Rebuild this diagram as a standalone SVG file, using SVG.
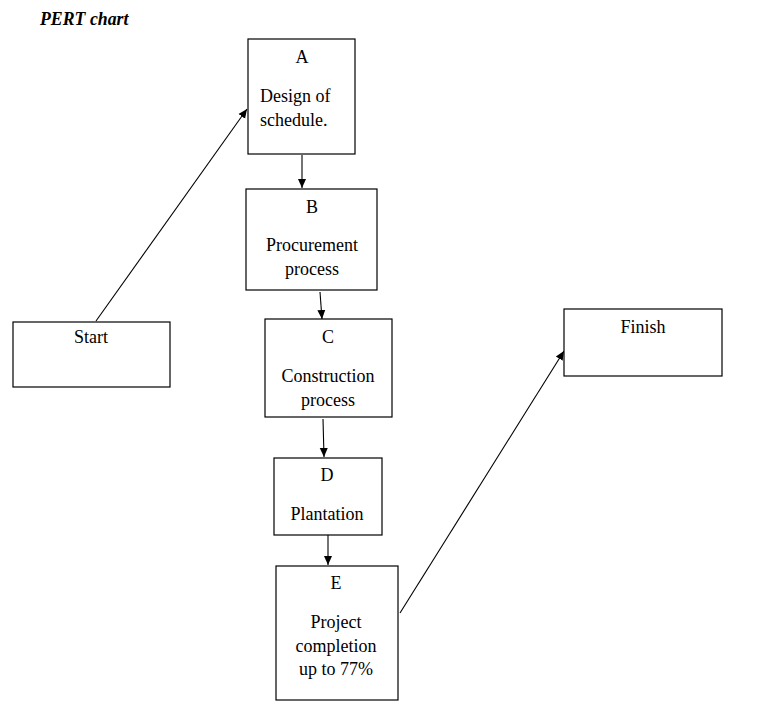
<svg xmlns="http://www.w3.org/2000/svg" width="766" height="718" viewBox="0 0 766 718">
<style>
.box{fill:#fff;stroke:#000;stroke-width:1.2}
.t{font-family:'Liberation Serif','Times New Roman','DejaVu Serif',serif;font-size:18px;fill:#000;text-anchor:middle}
.l{text-anchor:start}
.title{font-family:'Liberation Serif','Times New Roman','DejaVu Serif',serif;font-size:17.8px;font-weight:bold;font-style:italic}
.c{stroke:#000;stroke-width:1.1;fill:none;marker-end:url(#ah)}
</style>
<defs>
<marker id="ah" markerWidth="10" markerHeight="10" refX="9" refY="5" orient="auto" markerUnits="userSpaceOnUse">
<path d="M0,1 L9,5 L0,9 Z" fill="#000"/>
</marker>
</defs>
<rect width="766" height="718" fill="#fff"/>
<text class="title" x="40" y="25">PERT chart</text>
<g id="connectors">
<line class="c" x1="96" y1="321" x2="247" y2="109"/>
<line class="c" x1="302" y1="155" x2="302" y2="188"/>
<line class="c" x1="320" y1="292" x2="322" y2="319"/>
<line class="c" x1="323" y1="419" x2="324" y2="457"/>
<line class="c" x1="328" y1="535" x2="328" y2="565"/>
<line class="c" x1="400" y1="613" x2="564" y2="351"/>
</g>
<g id="start"><rect class="box" x="13" y="322" width="157" height="65"/><text class="t" x="91" y="343">Start</text></g>
<g id="nodeA"><rect class="box" x="248" y="39" width="107" height="115"/><text class="t" x="302" y="63">A</text><text class="t l" x="260" y="102">Design of</text><text class="t l" x="260" y="126">schedule.</text></g>
<g id="nodeB"><rect class="box" x="246" y="189" width="131" height="101"/><text class="t" x="312" y="213">B</text><text class="t" x="312" y="251">Procurement</text><text class="t" x="312" y="275">process</text></g>
<g id="nodeC"><rect class="box" x="265" y="319" width="127" height="98"/><text class="t" x="328" y="343">C</text><text class="t" x="328" y="382">Construction</text><text class="t" x="328" y="406">process</text></g>
<g id="nodeD"><rect class="box" x="274" y="458" width="108" height="77"/><text class="t" x="327" y="481">D</text><text class="t" x="327" y="520">Plantation</text></g>
<g id="nodeE"><rect class="box" x="276" y="566" width="122" height="134"/><text class="t" x="336" y="589">E</text><text class="t" x="336" y="628">Project</text><text class="t" x="336" y="652">completion</text><text class="t" x="336" y="675">up to 77%</text></g>
<g id="finish"><rect class="box" x="564" y="309" width="158" height="67"/><text class="t" x="643" y="333">Finish</text></g>
</svg>
